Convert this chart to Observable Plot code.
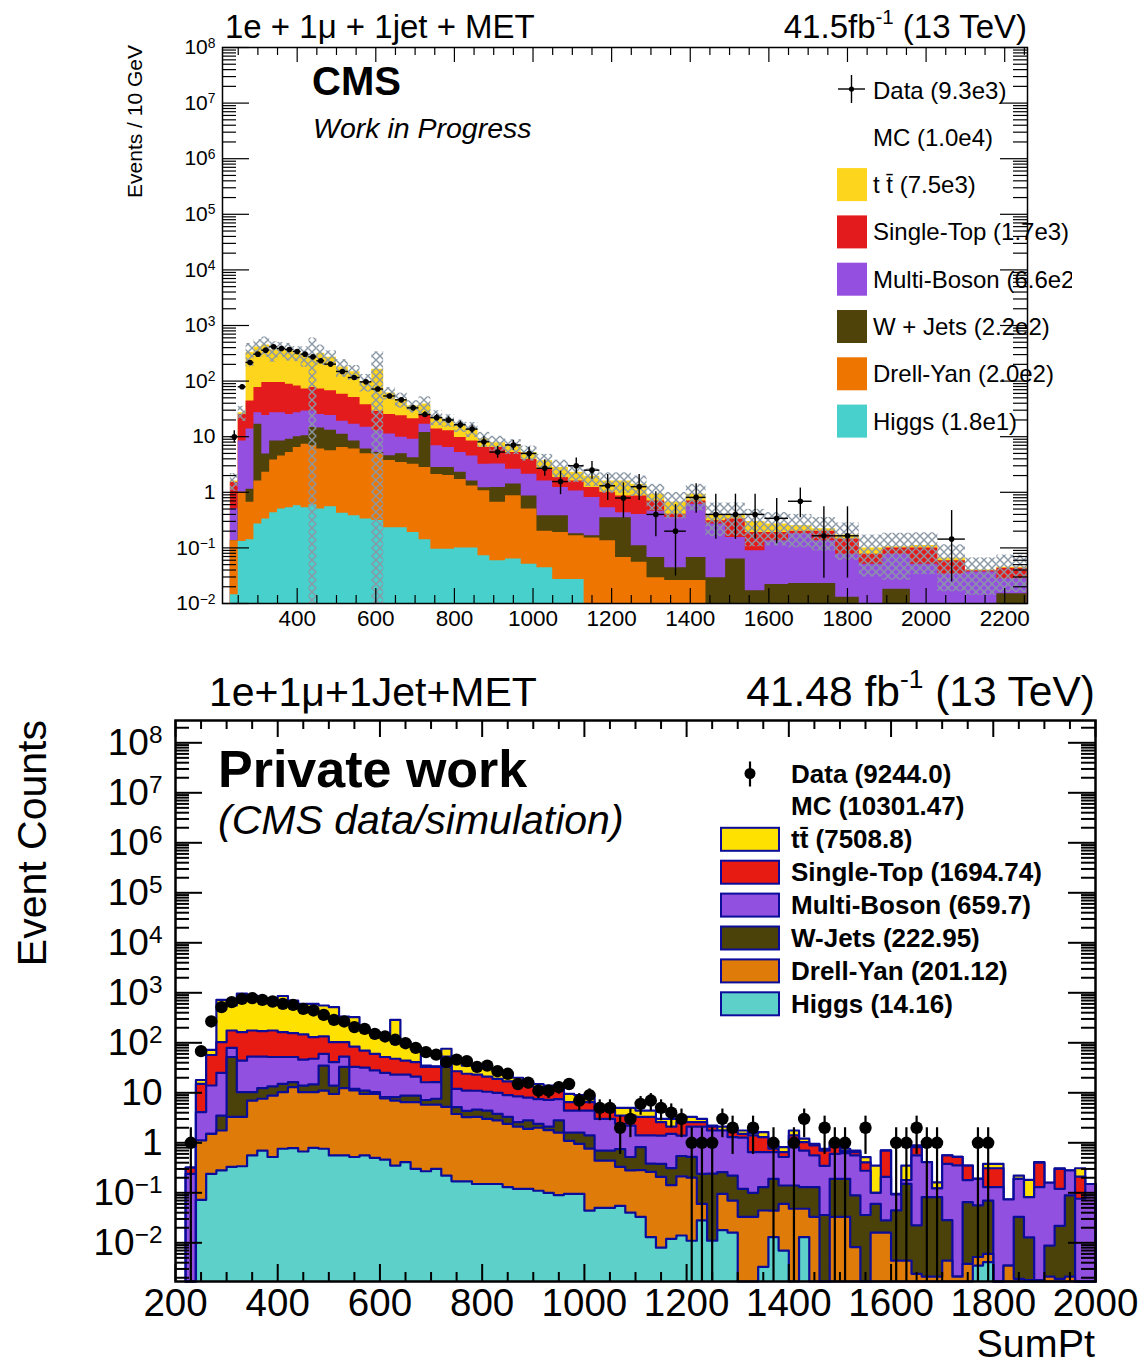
<!DOCTYPE html>
<html>
<head>
<meta charset="utf-8">
<script src="https://cdn.jsdelivr.net/npm/d3@7"></script>
<script src="https://cdn.jsdelivr.net/npm/@observablehq/plot@0.6"></script>
<style>
  html, body { margin: 0; padding: 0; background: #fff; }
  #page { position: relative; width: 1145px; height: 1366px; overflow: hidden; background: #fff;
          font-family: "Liberation Sans", Arial, Helvetica, sans-serif; }
  #upper { position: absolute; left: 0; top: 0; width: 1072px; height: 640px; overflow: hidden; }
  #lower { position: absolute; left: 0; top: 640px; width: 1145px; height: 726px; }
</style>
</head>
<body>
<div id="page"><div id="upper"></div><div id="lower"></div></div>
<script>
const FONT = '"Liberation Sans", Arial, Helvetica, sans-serif';

// ===== Upper figure: variable-width SumPt bins, yields per 10 GeV =====
const upperEdges = [230, 250, 270, 290, 310, 330, 350, 370, 390, 410, 430, 450, 470,
  500, 530, 560, 590, 620, 650, 680, 710, 740, 770, 800, 830, 860, 890,
  930, 970, 1010, 1050, 1090, 1130, 1170, 1210, 1250, 1290,
  1335, 1390, 1440, 1490, 1540, 1590, 1650, 1710, 1770, 1830, 1890, 1960, 2030, 2100, 2180, 2257];
const upperData = [10, 79, 216, 305, 360, 414, 386, 371, 341, 305, 273, 232,
  202, 149, 116, 97, 72, 54, 46, 33, 25, 22, 20, 16.4, 13.7, 8.1,
  5.3, 7.1, 5.0, 2.7, 1.56, 3.0, 2.5, 1.31, 0.79, 1.26,
  0.40, 0.20, 0.81, 0.40, 0.40, 0.40, 0.34, 0.69, 0.165, 0.165, 0, 0, 0, 0.144, 0, 0];
const upperTTbar = [0.1, 2, 285, 335, 350, 270, 285, 265, 238, 223, 200, 246,
  202, 122, 96, 60, 135, 36, 23, 14.5, 13.6, 8.8, 7.0, 6.2, 5.4, 2.8,
  1.4, 1.6, 1.3, 1.1, 0.95, 0.7, 0.73, 0.6, 0.74, 0.54,
  0.23, 0.26, 0.23, 0.09, 0.07, 0.11, 0.08, 0.05, 0.02, 0.025, 0.023, 0.005, 0.01, 0.006, 0.001, 0.002];
const upperSingleTop = [1.0, 16.6, 30, 50, 70, 67, 67, 63, 55, 43, 48, 47,
  43, 39, 34, 23, 16, 14, 14, 12, 8.2, 6.8, 6.4, 4.5, 3.9, 3.2,
  3.2, 2.6, 1.8, 1.0, 0.63, 0.54, 0.41, 0.47, 0.43, 0.46,
  0.24, 0.05, 0.09, 0.04, 0.176, 0.10, 0.056, 0.02, 0.066, 0.068, 0.026, 0.023, 0.049, 0.025, 0.002, 0.015];
const upperMultiBoson = [0.37, 7.4, 12.6, 10.2, 19.1, 18.6, 18.6, 16, 17, 18.6, 14.3, 10.7,
  10.9, 7.9, 8.4, 8.7, 7.6, 6.6, 4.8, 4.8, 4.9, 4.1, 3.6, 2.9, 2.9, 2.0,
  2.0, 1.2, 1.24, 1.22, 0.84, 0.88, 0.645, 0.18, 0.08, 0.29,
  0.39, 0.31, 0.54, 0.24, 0.091, 0.072, 0.112, 0.157, 0.111, 0.064, 0.051, 0.059, 0.051, 0.034, 0.037, 0.013];
const upperWJets = [0, 0, 0.48, 15.2, 2.6, 4.6, 3.9, 3.8, 3.6, 3.1, 7.8, 8.3,
  7.5, 4.7, 2.4, 1.1, 0.3, 0.8, 1.5, 1.0, 9.1, 0.7, 0.8, 0.6, 0.3, 0.14,
  0.56, 0.54, 0.36, 0.18, 0.19, 0.015, 0.015, 0.216, 0.283, 0.054,
  0.038, 0.018, 0.041, 0.029, 0.063, 0.017, 0.022, 0.023, 0.023, 0.013, 0, 0.018, 0, 0, 0, 0.015];
const upperDrellYan = [0.12, 0.87, 0.52, 1.33, 1.97, 3.37, 4.0, 4.67, 5.83, 6.77, 6.3, 5.5,
  5.05, 6.0, 5.6, 4.6, 4.6, 3.5, 3.2, 3.0, 2.66, 2.0, 1.9, 1.6, 1.2, 0.99,
  0.6, 0.8, 0.45, 0.156, 0.163, 0.138, 0.15, 0.134, 0.067, 0.055,
  0.029, 0.026, 0.026, 0, 0, 0, 0, 0, 0, 0, 0, 0, 0, 0, 0, 0];
const upperHiggs = [0.0144, 0.13, 0.14, 0.27, 0.33, 0.43, 0.5, 0.53, 0.57, 0.53, 0.6, 0.5,
  0.55, 0.42, 0.38, 0.33, 0.31, 0.23, 0.23, 0.19, 0.14, 0.095, 0.095, 0.1, 0.1, 0.072,
  0.059, 0.063, 0.051, 0.044, 0.027, 0.027, 0, 0, 0, 0,
  0, 0, 0, 0, 0, 0, 0, 0, 0, 0, 0, 0, 0, 0, 0, 0];
// relative MC statistical uncertainty per bin (hatched band)
const upperMCRelUnc = [0.35, 0.3, 0.45, 0.35, 0.4, 0.4, 0.3, 0.35, 0.3, 0.4,
  1.15, 0.4, 0.3, 0.35, 0.3, 0.35, 1.05, 0.25, 0.3, 0.25,
  0.35, 0.3, 0.25, 0.25, 0.3, 0.3, 0.3, 0.3, 0.3, 0.3,
  0.35, 0.35, 0.35, 0.4, 0.4, 0.4, 0.5, 0.5, 0.5, 0.6,
  0.6, 0.65, 0.6, 0.6, 0.6, 0.65, 0.7, 0.75, 0.7, 0.75, 0.65, 0.65];
const upperLegendLabels = ["Data (9.3e3)", "MC (1.0e4)", "t t\u0304 (7.5e3)", "Single-Top (1.7e3)",
  "Multi-Boson (6.6e2)", "W + Jets (2.2e2)", "Drell-Yan (2.0e2)", "Higgs (1.8e1)"];
// colours listed top of stack first: ttbar, single top, multi-boson, W+jets, DY, Higgs
const upperColors = ["#fdd51c", "#e41b1d", "#944ee0", "#4f430a", "#ee7600", "#48d0cc"];

// ===== Lower figure: 20 GeV bins from 220 to 2000 GeV =====
const lowerEdges = d3.range(220, 2001, 20);
const lowerData = [1, 68, 267, 516, 650, 757, 781, 723, 670, 601,
  574, 478, 443, 362, 288, 267, 206, 190, 151, 134,
  115, 98, 79, 65, 58, 41, 46, 43, 33, 35,
  27, 24, 15, 16, 11, 11, 13, 15, 7, 9,
  5, 5, 2, 3, 6, 7, 5, 4, 3, 1,
  1, 1, 3, 2, 0, 2, 0, 1, 0, 1,
  3, 0, 2, 1, 1, 0, 2, 0, 0, 1,
  1, 2, 1, 1, 0, 0, 0, 1, 1, 0,
  0, 0, 0, 0, 0, 0, 0, 0, 0];
const lowerTTbar = [0, 2.9, 15, 620, 381, 800, 700, 600, 525, 700,
  545, 454, 471, 423, 413, 233, 242, 120, 103, 88,
  240, 59, 41, 2, 1, 23, 14, 11, 10, 10,
  9, 7, 5, 3, 2, 1.5, 1, 3.0, 2.5, 2.3,
  1.0, 1.0, 1.5, 1.5, 1.1, 1.1, 0.4, 0.9, 0.7, 0.7,
  0.4, 0.1, 0.34, 0.25, 0.25, 0.15, 0.33, 0.13, 0.17, 0.35,
  0.18, 0.06, 0.06, 0.08, 0.08, 0.05, 0.11, 0.25, 0.005, 0.001,
  0.17, 0.07, 0, 0.04, 0, 0, 0, 0, 0.07, 0.07,
  0, 0.03, 0.1, 0.01, 0, 0.01, 0, 0.1, 0];
const lowerSingleTop = [0.08, 11, 43, 78, 97, 119, 123, 118, 124, 111,
  104, 101, 82, 74, 62, 50, 51, 38, 32, 27,
  25, 21, 20, 16.7, 16.7, 1, 15, 13, 12, 10.5,
  9, 8, 6.5, 6, 5.5, 5.3, 4.5, 2.1, 2.1, 2.1,
  1.4, 1.4, 1.1, 1.3, 1.9, 1.9, 1.2, 0.6, 1.2, 0.5,
  0.5, 0.34, 0, 0.41, 0.24, 0.76, 0.65, 0.11, 0.13, 0.59,
  0.33, 0.33, 0.35, 0.35, 0.06, 0.09, 0.13, 0, 0.49, 0.001,
  0, 0.26, 0, 0, 0.18, 0.17, 0.17, 0, 0.18, 0.18,
  0, 0, 0, 0.27, 0, 0.18, 0, 0.134, 0];
const lowerMultiBoson = [0.24, 3.0, 12.5, 21.5, 27, 33.7, 42.7, 40.6, 38.6, 36.9,
  35.7, 32, 33.3, 25, 27, 20, 21, 20.9, 17.7, 16.8,
  14.8, 14.2, 12.2, 9.1, 8.7, 19, 6.8, 6.7, 6.4, 6.1,
  6.2, 5.7, 5.9, 5.2, 5.1, 5.1, 4.7, 2.8, 2.8, 3.0,
  2.3, 2.3, 1.65, 1.68, 0.58, 1.02, 1.02, 1.19, 0.85, 1.58,
  1.86, 1.52, 1.5, 1.08, 1.15, 0.55, 0.52, 0.46, 0.38, 0.68,
  0.57, 0.43, 0.31, 0.41, 0.43, 0.47, 0.24, 0.04, 0.18, 0.049,
  0.03, 0.54, 0.33, 0.04, 0.35, 0.35, 0.115, 0.134, 0.06, 0.13,
  0.07, 0.157, 0.069, 0.128, 0.15, 0.098, 0.19, 0.076, 0.15];
const lowerWJets = [0, 0, 0, 1.74, 48.7, 7.0, 3.3, 4.8, 4.6, 4.8,
  3.3, 3.7, 4.4, 23.9, 4.5, 20.6, 0.9, 1.6, 0.8, 0.4,
  1.2, 2.3, 2.3, 1.4, 1.8, 27.8, 1.4, 1.1, 1.3, 1.4,
  1.0, 0.9, 0.5, 0.9, 0.4, 0.3, 1.2, 0.5, 0.65, 0.64,
  0.26, 0.26, 0.42, 0.24, 0.54, 0.12, 0.17, 0.17, 0.33, 0.32,
  0.18, 0.23, 0.165, 0.15, 0.087, 0.067, 0.086, 0.146, 0.08, 0.092,
  0.082, 0.097, 0.036, 0.157, 0.157, 0.081, 0.036, 0.044, 0.012, 0.04,
  0.146, 0.02, 0.08, 0.08, 0.024, 0, 0.061, 0.051, 0.064, 0,
  0, 0.031, 0.011, 0, 0.0067, 0.02, 0.087, 0, 0];
const lowerDrellYan = [0, 1.04, 1.27, 1.48, 2.97, 2.96, 6.44, 6.9, 8.28, 9.54,
  12.2, 9.6, 9.5, 10.3, 8.9, 11.8, 10.6, 8.9, 9.0, 7.3,
  6.65, 6.1, 6.2, 5.5, 5.5, 5.0, 3.6, 3.1, 3.15, 2.85,
  2.65, 2.27, 1.98, 1.78, 1.89, 1.7, 1.51, 1.0, 0.86, 0.72,
  0.39, 0.39, 0.275, 0.24, 0.25, 0.25, 0.2, 0.13, 0.2, 0.19,
  0.032, 0, 0.077, 0.054, 0.033, 0.033, 0.041, 0.031, 0.053, 0.048,
  0.035, 0.033, 0, 0.033, 0.033, 0.0082, 0, 0.016, 0.016, 0.0044,
  0.0044, 0.0024, 0.0021, 0.0021, 0.0044, 0.0021, 0.0038, 0.0017, 0.0019, 0,
  0.0035, 0.0019, 0.0018, 0.0018, 0.0021, 0.0019, 0.0021, 0, 0];
const lowerHiggs = [0, 0.072, 0.24, 0.28, 0.33, 0.34, 0.56, 0.70, 0.52, 0.76,
  0.78, 0.67, 0.79, 0.76, 0.56, 0.56, 0.52, 0.56, 0.50, 0.46,
  0.35, 0.41, 0.30, 0.27, 0.30, 0.22, 0.17, 0.17, 0.15, 0.15,
  0.15, 0.13, 0.12, 0.12, 0.11, 0.10, 0.09, 0.095, 0.095, 0.044,
  0.05, 0.05, 0.055, 0.04, 0.033, 0.013, 0.008, 0.012, 0.014, 0.011,
  0.028, 0.011, 0.018, 0.016, 0, 0, 0.0033, 0.013, 0.007, 0,
  0.013, 0, 0, 0, 0, 0, 0, 0, 0, 0,
  0, 0, 0, 0, 0, 0, 0, 0.0035, 0.0041, 0,
  0, 0, 0, 0, 0, 0, 0, 0, 0];
const lowerLegendLabels = ["Data (9244.0)", "MC (10301.47)", "tt\u0304 (7508.8)", "Single-Top (1694.74)",
  "Multi-Boson (659.7)", "W-Jets (222.95)", "Drell-Yan (201.12)", "Higgs (14.16)"];
const lowerColors = ["#ffe100", "#e81b12", "#9150e0", "#4b4209", "#df7b08", "#5cd0c9"];
const lowerLine = "#0c0c9a";

// ===== helpers =====
function cumulate(layers) {            // layers listed bottom of stack first
  let acc = layers[0].map(() => 0);
  return layers.map(l => (acc = acc.map((a, i) => a + l[i])));
}
function stepPoints(edges, vals, floor) {
  const pts = vals.map((v, i) => ({x: edges[i], y: Math.max(v, floor)}));
  pts.push({x: edges[edges.length - 1], y: Math.max(vals[vals.length - 1], floor)});
  return pts;
}
function outlinePoints(edges, vals, floor) {
  return [{x: edges[0], y: floor}, ...stepPoints(edges, vals, floor), {x: edges[edges.length - 1], y: floor}];
}
function logMajor(lo, hi) {
  const out = [];
  for (let k = Math.ceil(Math.log10(lo) - 1e-9); k <= Math.floor(Math.log10(hi) + 1e-9); k++) out.push(10 ** k);
  return out;
}
function logMinor(lo, hi) {
  const out = [];
  for (let k = Math.floor(Math.log10(lo)); k <= Math.ceil(Math.log10(hi)); k++)
    for (let m = 2; m <= 9; m++) { const v = m * 10 ** k; if (v > lo && v < hi) out.push(v); }
  return out;
}
const powerLabel = d => {
  const e = Math.round(Math.log10(d));
  return e === 0 ? "1" : e === 1 ? "10" : `10^${e < 0 ? "\u2212" + (-e) : e}`;
};
// Poisson (Garwood-like) interval, Wilson-Hilferty approximation
const poissonLow = n => n * Math.pow(1 - 1 / (9 * n) - 1 / (3 * Math.sqrt(n)), 3);
const poissonHigh = n => (n + 1) * Math.pow(1 - 1 / (9 * (n + 1)) + 1 / (3 * Math.sqrt(n + 1)), 3);

// inward ticks on all four sides (ROOT style)
function frameTicks({xd, yd, pxX, pxDec, xMajor, xMinor, yLenMaj, yLenMin, xLenMaj, xLenMin, sw}) {
  const [x0, x1] = xd, [y0, y1] = yd;
  const dMaj = yLenMaj / pxX, dMin = yLenMin / pxX;
  const fMaj = 10 ** (xLenMaj / pxDec), fMin = 10 ** (xLenMin / pxDec);
  const yMaj = logMajor(y0, y1), yMin = logMinor(y0, y1);
  const o = {stroke: "black", strokeWidth: sw};
  return [
    Plot.ruleY(yMaj, {y: d => d, x1: x0, x2: x0 + dMaj, ...o}),
    Plot.ruleY(yMaj, {y: d => d, x1: x1 - dMaj, x2: x1, ...o}),
    Plot.ruleY(yMin, {y: d => d, x1: x0, x2: x0 + dMin, ...o}),
    Plot.ruleY(yMin, {y: d => d, x1: x1 - dMin, x2: x1, ...o}),
    Plot.ruleX(xMajor, {x: d => d, y1: y0, y2: y0 * fMaj, ...o}),
    Plot.ruleX(xMajor, {x: d => d, y1: y1 / fMaj, y2: y1, ...o}),
    Plot.ruleX(xMinor, {x: d => d, y1: y0, y2: y0 * fMin, ...o}),
    Plot.ruleX(xMinor, {x: d => d, y1: y1 / fMin, y2: y1, ...o})
  ];
}
function superscriptTicks(svg) {
  d3.select(svg).selectAll('g[aria-label="y-axis tick label"] text').each(function () {
    const t = this.textContent, k = t.indexOf("^");
    if (k < 0) return;
    const sel = d3.select(this);
    sel.text(null);
    sel.append("tspan").text(t.slice(0, k));
    sel.append("tspan").attr("dy", "-0.48em").attr("font-size", "0.66em").text(t.slice(k + 1));
  });
}
function richText(g, {x, y, parts, size, weight = "normal", style = "normal", anchor = "start", rotate = null}) {
  const t = g.append("text").attr("x", x).attr("y", y).attr("font-size", size)
    .attr("font-weight", weight).attr("font-style", style).attr("text-anchor", anchor).attr("fill", "black");
  if (rotate != null) t.attr("transform", `rotate(${rotate} ${x} ${y})`);
  let raised = false;
  for (const p of parts) {
    const s = typeof p === "string" ? {text: p} : p;
    const span = t.append("tspan").text(s.text);
    if (s.sup && !raised) { span.attr("dy", -0.42 * size).attr("font-size", 0.62 * size); raised = true; }
    else if (!s.sup && raised) { span.attr("dy", 0.42 * size); raised = false; }
  }
  return t;
}
function overlay(parent, w, h) {
  return d3.select(parent).append("svg").attr("width", w).attr("height", h)
    .style("position", "absolute").style("left", "0px").style("top", "0px")
    .style("font-family", FONT).style("pointer-events", "none");
}

// ===== upper figure =====
{
  const XD = [210, 2258], YD = [0.01, 1e8], Y0 = YD[0];
  const layers = [upperHiggs, upperDrellYan, upperWJets, upperMultiBoson, upperSingleTop, upperTTbar];
  const cum = cumulate(layers);
  const total = cum[cum.length - 1];
  const fillsBottomUp = upperColors.slice().reverse();
  const fills = cum.map((c, k) => Plot.areaY(stepPoints(upperEdges, c, Y0),
    {x: "x", y1: Y0, y2: "y", curve: "step-after", fill: fillsBottomUp[k]})).reverse();
  const hatch = total.map((t, i) => ({
    x1: upperEdges[i], x2: upperEdges[i + 1],
    lo: Math.max(t * (1 - upperMCRelUnc[i]), Y0), hi: t * (1 + upperMCRelUnc[i])
  }));
  const points = upperData.map((v, i) => {
    const w = upperEdges[i + 1] - upperEdges[i], n = Math.round(v * w / 10);
    return {x1: upperEdges[i], x2: upperEdges[i + 1], xc: (upperEdges[i] + upperEdges[i + 1]) / 2,
            v, n, lo: n > 0 ? poissonLow(n) * 10 / w : 0, hi: n > 0 ? poissonHigh(n) * 10 / w : 0};
  }).filter(d => d.n > 0);
  const xMajor = d3.range(400, 2201, 200);
  const xMinor = d3.range(250, 2251, 50).filter(d => d % 200 !== 0);

  const svg = Plot.plot({
    width: 1145, height: 640,
    marginLeft: 222, marginRight: 118, marginTop: 47, marginBottom: 37,
    style: {background: "transparent", fontFamily: FONT, maxWidth: "none"},
    x: {domain: XD, label: null},
    y: {type: "log", domain: YD, label: null},
    marks: [
      ...fills,
      Plot.rect(hatch, {x1: "x1", x2: "x2", y1: "lo", y2: "hi", fill: "#8795a3",
                        ariaDescription: "mc-stat-unc", clip: true}),
      Plot.ruleY(points, {y: "v", x1: "x1", x2: "x2", stroke: "black", strokeWidth: 1.4}),
      Plot.ruleX(points, {x: "xc", y1: "lo", y2: "hi", stroke: "black", strokeWidth: 1.4, clip: true}),
      Plot.dot(points, {x: "xc", y: "v", r: 2.8, fill: "black"}),
      ...frameTicks({xd: XD, yd: YD, pxX: 805 / 2048, pxDec: 55.6, xMajor, xMinor,
                     yLenMaj: 27, yLenMin: 14, xLenMaj: 15, xLenMin: 8, sw: 1.2}),
      Plot.frame({stroke: "black", strokeWidth: 1.5}),
      Plot.axisY(logMajor(YD[0], YD[1]), {anchor: "left", tickSize: 0, tickPadding: 7, tickFormat: powerLabel, fontSize: 21, label: null}),
      Plot.axisX(xMajor, {anchor: "bottom", tickSize: 0, tickPadding: 7, tickFormat: d => String(d), fontSize: 22.5, label: null})
    ]
  });
  document.getElementById("upper").appendChild(svg);
  superscriptTicks(svg);
  // cross-hatch pattern for the MC statistical uncertainty band
  const defs = d3.select(svg).insert("defs", ":first-child");
  const pat = defs.append("pattern").attr("id", "mc-hatch").attr("patternUnits", "userSpaceOnUse")
    .attr("width", 8).attr("height", 8);
  pat.append("path").attr("d", "M0,0L8,8M8,0L0,8").attr("stroke", "#8a97a4").attr("stroke-width", 1.4).attr("fill", "none");
  const band = d3.select(svg).selectAll('g[aria-description="mc-stat-unc"]');
  band.attr("fill", "url(#mc-hatch)");
  band.selectAll("rect").attr("fill", "url(#mc-hatch)");

  const g = overlay(document.getElementById("upper"), 1072, 640);
  richText(g, {x: 225, y: 38, parts: ["1e + 1\u03bc + 1jet + MET"], size: 33});
  richText(g, {x: 1027, y: 38, parts: ["41.5fb", {text: "-1", sup: true}, " (13 TeV)"], size: 33, anchor: "end"});
  richText(g, {x: 312, y: 95, parts: ["CMS"], size: 40, weight: "bold"});
  richText(g, {x: 313, y: 138, parts: ["Work in Progress"], size: 28.5, style: "italic"});
  richText(g, {x: 142, y: 45, parts: ["Events / 10 GeV"], size: 21, anchor: "end", rotate: -90});
  upperLegendLabels.forEach((label, i) => {
    const cy = 90 + 47.3 * i;
    if (i === 0) {
      g.append("line").attr("x1", 838).attr("x2", 865).attr("y1", cy - 1).attr("y2", cy - 1).attr("stroke", "black").attr("stroke-width", 1.4);
      g.append("line").attr("x1", 851.5).attr("x2", 851.5).attr("y1", cy - 15).attr("y2", cy + 13).attr("stroke", "black").attr("stroke-width", 1.4);
      g.append("circle").attr("cx", 851.5).attr("cy", cy - 1).attr("r", 2.6).attr("fill", "black");
    } else if (i >= 2) {
      g.append("rect").attr("x", 837).attr("y", cy - 16.5).attr("width", 30).attr("height", 33).attr("fill", upperColors[i - 2]);
    }
    richText(g, {x: 873, y: cy + 8.5, parts: [label], size: 24});
  });
}

// ===== lower figure =====
{
  const XD = [200, 2000], YD = [10 ** -2.774, 10 ** 8.446], Y0 = YD[0];
  const layers = [lowerHiggs, lowerDrellYan, lowerWJets, lowerMultiBoson, lowerSingleTop, lowerTTbar];
  const cum = cumulate(layers);
  const fillsBottomUp = lowerColors.slice().reverse();
  const stack = [];
  for (let k = cum.length - 1; k >= 0; k--) {
    stack.push(Plot.areaY(stepPoints(lowerEdges, cum[k], Y0),
      {x: "x", y1: Y0, y2: "y", curve: "step-after", fill: fillsBottomUp[k]}));
    stack.push(Plot.line(outlinePoints(lowerEdges, cum[k], Y0),
      {x: "x", y: "y", curve: "step-after", stroke: lowerLine, strokeWidth: 2.2}));
  }
  const points = lowerData.map((n, i) => ({
    xc: (lowerEdges[i] + lowerEdges[i + 1]) / 2, v: n,
    lo: Math.max(n - Math.sqrt(n), Y0), hi: n + Math.sqrt(n)
  })).filter(d => d.v > 0);
  const xMajor = d3.range(200, 2001, 200);
  const xMinor = d3.range(250, 1951, 50).filter(d => d % 200 !== 0);

  const svg = Plot.plot({
    width: 1145, height: 726,
    marginLeft: 175, marginRight: 50, marginTop: 80, marginBottom: 85,
    style: {background: "transparent", fontFamily: FONT, maxWidth: "none"},
    x: {domain: XD, label: null},
    y: {type: "log", domain: YD, label: null},
    marks: [
      ...stack,
      Plot.ruleX(points, {x: "xc", y1: "lo", y2: "hi", stroke: "black", strokeWidth: 2.2, clip: true}),
      Plot.dot(points, {x: "xc", y: "v", r: 6.2, fill: "black"}),
      ...frameTicks({xd: XD, yd: YD, pxX: 920 / 1800, pxDec: 50, xMajor, xMinor,
                     yLenMaj: 27, yLenMin: 14, xLenMaj: 17, xLenMin: 9, sw: 2}),
      Plot.frame({stroke: "black", strokeWidth: 2.5}),
      Plot.axisY(logMajor(YD[0], YD[1]), {anchor: "left", tickSize: 0, tickPadding: 13, tickFormat: powerLabel, fontSize: 37, label: null}),
      Plot.axisX(xMajor, {anchor: "bottom", tickSize: 0, tickPadding: 7, tickFormat: d => String(d), fontSize: 38.5, label: null})
    ]
  });
  document.getElementById("lower").appendChild(svg);
  superscriptTicks(svg);

  const g = overlay(document.getElementById("page"), 1145, 1366);
  richText(g, {x: 209, y: 706, parts: ["1e+1\u03bc+1Jet+MET"], size: 41});
  richText(g, {x: 1095, y: 706, parts: ["41.48 fb", {text: "-1", sup: true}, " (13 TeV)"], size: 42.5, anchor: "end"});
  richText(g, {x: 218, y: 787, parts: ["Private work"], size: 52, weight: "bold"});
  richText(g, {x: 218, y: 834, parts: ["(CMS data/simulation)"], size: 41, style: "italic"});
  richText(g, {x: 46, y: 720, parts: ["Event Counts"], size: 41, anchor: "end", rotate: -90});
  richText(g, {x: 1095, y: 1357, parts: ["SumPt"], size: 39.5, anchor: "end"});
  lowerLegendLabels.forEach((label, i) => {
    const cy = 773.5 + 32.9 * i;
    if (i === 0) {
      g.append("line").attr("x1", 750).attr("x2", 750).attr("y1", cy - 12).attr("y2", cy + 13).attr("stroke", "black").attr("stroke-width", 2.2);
      g.append("circle").attr("cx", 750).attr("cy", cy).attr("r", 5.5).attr("fill", "black");
    } else if (i >= 2) {
      g.append("rect").attr("x", 721).attr("y", cy - 11.5).attr("width", 58).attr("height", 23)
        .attr("fill", lowerColors[i - 2]).attr("stroke", lowerLine).attr("stroke-width", 2);
    }
    richText(g, {x: 791, y: cy + 9, parts: [label], size: 26, weight: "bold"});
  });
}
</script>
</body>
</html>
